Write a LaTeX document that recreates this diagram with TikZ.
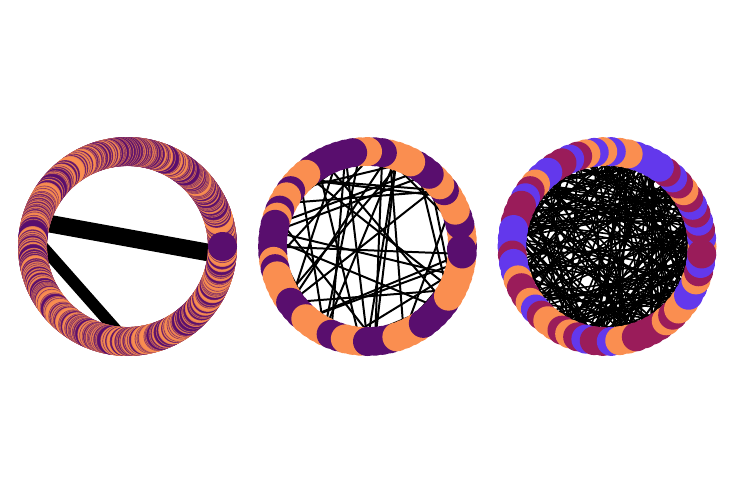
\documentclass[tikz,border=0pt]{standalone}
\usepackage{xcolor}
\usetikzlibrary{positioning}

\definecolor{plum}{HTML}{590E6E}
\definecolor{peach}{HTML}{FA8E50}
\definecolor{violet}{HTML}{6338EC}
\definecolor{berry}{HTML}{9A1C5A}

\begin{document}
\begin{tikzpicture}[
    x=0.03cm, y=-0.03cm,
    dot/.style={radius=14.5},
    chord/.style={black, line width=1.7pt},
    finechord/.style={black, line width=1.4pt},
    heavy/.style={black, line cap=butt}
]
\useasboundingbox[fill=white] (0,0) rectangle (733,493);
\coordinate (one) at (127.5,246.5);
\coordinate (two) at (367.5,246.5);
\coordinate (three) at (607,246.5);

% left ring: two heavy edges, many thin nodes
\coordinate (e1a) at ([shift={(-92.5,-25.5)}]one);
\coordinate (e1b) at ([shift={(94.5,8.5)}]one);
\coordinate (e2a) at ([shift={(-93.5,-9.5)}]one);
\coordinate (e2b) at ([shift={(-2,94)}]one);
\draw[heavy, line width=15pt] (e1a) -- (e1b);
\draw[heavy, line width=10pt] (e2a) -- (e2b);
\pgfmathsetseed{11}
\foreach \i in {0,...,899}{
  \pgfmathsetmacro{\ang}{-0.4*\i}
  \pgfmathrandominteger{\c}{0}{1}
  \ifnum\c=0 \def\col{plum}\else\def\col{peach}\fi
  \fill[\col, fill opacity=0.75, dot] ([shift={(\ang:95)}]one) circle;
}
\fill[plum, dot] ([shift={(0:95)}]one) circle;

% middle ring
\foreach \k in {1,...,60}{
  \pgfmathrandominteger{\a}{0}{79}
  \pgfmathrandominteger{\b}{0}{79}
  \pgfmathsetmacro{\angA}{-\a*4.5}
  \pgfmathsetmacro{\angB}{-\b*4.5}
  \draw[chord] ([shift={(\angA:95)}]two) -- ([shift={(\angB:95)}]two);
}
\foreach \i in {0,...,79}{
  \pgfmathsetmacro{\ang}{-\i*4.5}
  \pgfmathrandominteger{\c}{0}{1}
  \ifnum\c=0 \def\col{plum}\else\def\col{peach}\fi
  \fill[\col, dot] ([shift={(\ang:95)}]two) circle;
}
\fill[plum, dot] ([shift={(1.5:94)}]two) circle;

% right ring
\foreach \k in {1,...,300}{
  \pgfmathrandominteger{\a}{0}{69}
  \pgfmathrandominteger{\b}{0}{69}
  \pgfmathsetmacro{\angA}{-\a*5.142857}
  \pgfmathsetmacro{\angB}{-\b*5.142857}
  \draw[finechord] ([shift={(\angA:95)}]three) -- ([shift={(\angB:95)}]three);
}
\foreach \i in {0,...,69}{
  \pgfmathsetmacro{\ang}{-\i*5.142857}
  \pgfmathrandominteger{\c}{0}{2}
  \ifcase\c \def\col{violet}\or\def\col{berry}\else\def\col{peach}\fi
  \fill[\col, dot] ([shift={(\ang:95)}]three) circle;
}
\fill[berry, dot] ([shift={(4.5:95)}]three) circle;
\end{tikzpicture}
\end{document}
